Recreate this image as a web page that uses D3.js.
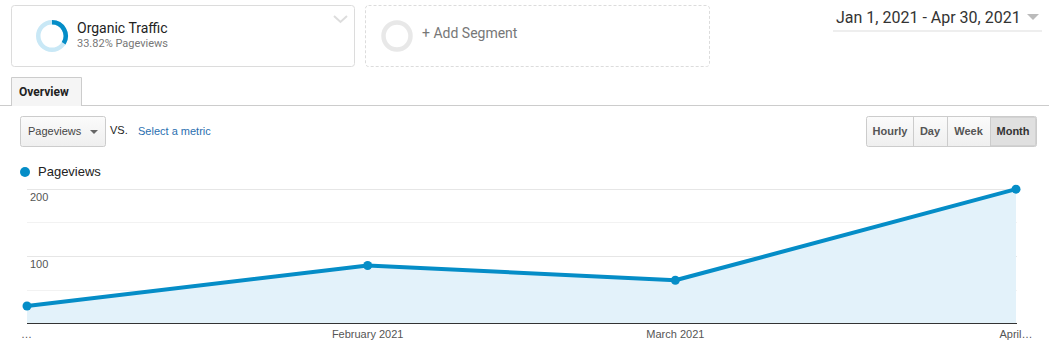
<!DOCTYPE html>
<html>
<head>
<meta charset="utf-8">
<script src="https://cdn.jsdelivr.net/npm/d3@7"></script>
<style>
  body { margin: 0; background: #fff; }
  svg { display: block; }
</style>
</head>
<body>
<div id="chart"></div>
<script>
// values
const months = ['2021-01-01', '2021-02-01', '2021-03-01', '2021-04-01'];
const pageviews = [26, 86, 64, 199];
const xTickLabels = ['…', 'February 2021', 'March 2021', 'April…'];
const yTicks = [50, 100, 150, 200];
const yLabels = [100, 200];
const periodButtons = ['Hourly', 'Day', 'Week', 'Month'];
const segmentShare = 0.3382;

const width = 1049;
const height = 341;
const blue = '#058dc7';
const sans = 'Liberation Sans, Arial, sans-serif';
const roboto = 'Roboto, sans-serif';

const parse = d3.timeParse('%Y-%m-%d');
const data = months.map((m, i) => ({ date: parse(m), value: pageviews[i] }));

const svg = d3.select('#chart').append('svg')
  .attr('width', width)
  .attr('height', height);

const defs = svg.append('defs');
const grad = defs.append('linearGradient').attr('id', 'btn').attr('x1', 0).attr('y1', 0).attr('x2', 0).attr('y2', 1);
grad.append('stop').attr('offset', '0%').attr('stop-color', '#fbfbfb');
grad.append('stop').attr('offset', '100%').attr('stop-color', '#efefef');

// --- segment boxes ---
svg.append('rect').attr('x', 11.5).attr('y', 5.5).attr('width', 343).attr('height', 61)
  .attr('rx', 3).attr('fill', '#fff').attr('stroke', '#dcdcdc');

const donut = svg.append('g').attr('transform', 'translate(52,36)');
const arc = d3.arc().innerRadius(11.5).outerRadius(16);
donut.append('path').attr('d', arc({ startAngle: 0, endAngle: 2 * Math.PI })).attr('fill', '#c9e8f6');
donut.append('path').attr('d', arc({ startAngle: 0, endAngle: 2 * Math.PI * segmentShare })).attr('fill', blue);

svg.append('text').attr('x', 77).attr('y', 33).attr('font-family', roboto).attr('font-size', 14)
  .attr('fill', '#222').text('Organic Traffic');
svg.append('text').attr('x', 77).attr('y', 47).attr('font-family', roboto).attr('font-size', 11)
  .attr('fill', '#777').text('33.82% Pageviews');
svg.append('path').attr('d', 'M334,16 L340.5,22 L347,16').attr('fill', 'none')
  .attr('stroke', '#ddd').attr('stroke-width', 2);

svg.append('rect').attr('x', 365.5).attr('y', 5.5).attr('width', 344).attr('height', 61)
  .attr('rx', 3).attr('fill', '#fff').attr('stroke', '#dcdcdc').attr('stroke-dasharray', '3,2');
svg.append('circle').attr('cx', 397).attr('cy', 36).attr('r', 13.5).attr('fill', 'none')
  .attr('stroke', '#e8e8e8').attr('stroke-width', 4.5);
svg.append('text').attr('x', 422).attr('y', 38).attr('font-family', roboto).attr('font-size', 14)
  .attr('fill', '#777').text('+ Add Segment');

// --- date range ---
svg.append('text').attr('x', 836).attr('y', 23).attr('font-family', roboto).attr('font-size', 16)
  .attr('fill', '#333').text('Jan 1, 2021 - Apr 30, 2021');
svg.append('path').attr('d', 'M1027,14 L1039,14 L1033,20 Z').attr('fill', '#bbb');
svg.append('line').attr('x1', 833).attr('x2', 1042).attr('y1', 31).attr('y2', 31)
  .attr('stroke', '#eee').attr('stroke-width', 2);

// --- tab ---
svg.append('line').attr('x1', 0).attr('x2', width).attr('y1', 105.5).attr('y2', 105.5).attr('stroke', '#ccc');
svg.append('path').attr('d', 'M11.5,106 L11.5,77.5 L81.5,77.5 L81.5,106')
  .attr('fill', '#f5f5f5').attr('stroke', '#ccc');
svg.append('text').attr('x', 19).attr('y', 96).attr('font-family', roboto).attr('font-weight', 'bold')
  .attr('font-size', 12).attr('fill', '#222').text('Overview');

// --- metric selector ---
svg.append('rect').attr('x', 20.5).attr('y', 116.5).attr('width', 85).attr('height', 30)
  .attr('rx', 2).attr('fill', 'url(#btn)').attr('stroke', '#ccc');
svg.append('text').attr('x', 28).attr('y', 135).attr('font-family', sans).attr('font-size', 11)
  .attr('fill', '#444').text('Pageviews');
svg.append('path').attr('d', 'M90,130 L98,130 L94,134 Z').attr('fill', '#666');
svg.append('text').attr('x', 110).attr('y', 134).attr('font-family', sans).attr('font-size', 11)
  .attr('fill', '#222').text('VS.');
svg.append('text').attr('x', 138).attr('y', 135).attr('font-family', sans).attr('font-size', 11)
  .attr('fill', '#2a6fb0').text('Select a metric');

// --- period buttons ---
const btnEdges = [867, 913, 947, 990, 1036];
const btns = svg.append('g');
btns.append('rect').attr('x', 866.5).attr('y', 116.5).attr('width', 170).attr('height', 30)
  .attr('rx', 2).attr('fill', 'url(#btn)').attr('stroke', '#ccc');
btns.append('rect').attr('x', 990).attr('y', 117).attr('width', 46).attr('height', 29)
  .attr('fill', '#e0e0e0');
btns.append('rect').attr('x', 990.5).attr('y', 117.5).attr('width', 45).attr('height', 28)
  .attr('fill', 'none').attr('stroke', '#d2d2d2').attr('stroke-width', 1);
btns.selectAll('line.div').data(btnEdges.slice(1, 4)).enter().append('line')
  .attr('x1', d => d + 0.5).attr('x2', d => d + 0.5).attr('y1', 117).attr('y2', 146).attr('stroke', '#ccc');
btns.selectAll('text').data(periodButtons).enter().append('text')
  .attr('x', (d, i) => (btnEdges[i] + btnEdges[i + 1]) / 2)
  .attr('y', 135).attr('text-anchor', 'middle').attr('font-family', sans)
  .attr('font-weight', 'bold').attr('font-size', 11).attr('fill', (d, i) => i === 3 ? '#333' : '#555')
  .text(d => d);

// --- legend ---
svg.append('circle').attr('cx', 25).attr('cy', 172).attr('r', 5).attr('fill', blue);
svg.append('text').attr('x', 38).attr('y', 176).attr('font-family', sans).attr('font-size', 13)
  .attr('fill', '#222').text('Pageviews');

// --- chart ---
const x = d3.scaleTime()
  .domain(d3.extent(data, d => d.date))
  .range([27, 1016]);
const y = d3.scaleLinear()
  .domain([0, 200])
  .range([323.5, 188.5]);

svg.append('g').selectAll('line').data(yTicks).enter().append('line')
  .attr('x1', 27).attr('x2', 1017)
  .attr('y1', d => Math.round(y(d)) + 0.5).attr('y2', d => Math.round(y(d)) + 0.5)
  .attr('stroke', d => d % 100 === 0 ? '#e6e6e6' : '#f2f2f2');

svg.append('g').selectAll('text').data(yLabels).enter().append('text')
  .attr('x', 30).attr('y', d => y(d) + 12)
  .attr('font-family', sans).attr('font-size', 11).attr('fill', '#555')
  .text(d => d);

const area = d3.area().x(d => x(d.date)).y0(y(0)).y1(d => y(d.value));
svg.append('path').datum(data).attr('d', area).attr('fill', '#e3f2fa');

svg.append('line').attr('x1', 27).attr('x2', 1017).attr('y1', 323.5).attr('y2', 323.5)
  .attr('stroke', '#333').attr('stroke-width', 1);

const line = d3.line().x(d => x(d.date)).y(d => y(d.value));
svg.append('path').datum(data).attr('d', line).attr('fill', 'none')
  .attr('stroke', blue).attr('stroke-width', 4).attr('stroke-linejoin', 'round');

svg.append('g').selectAll('circle').data(data).enter().append('circle')
  .attr('cx', d => x(d.date)).attr('cy', d => y(d.value)).attr('r', 4.5).attr('fill', blue);

svg.append('g').selectAll('text').data(data).enter().append('text')
  .attr('x', (d, i) => i === 0 ? 21 : x(d.date))
  .attr('y', 338)
  .attr('text-anchor', (d, i) => i === 0 ? 'start' : 'middle')
  .attr('font-family', sans).attr('font-size', 11).attr('fill', '#555')
  .text((d, i) => xTickLabels[i]);
</script>
</body>
</html>
